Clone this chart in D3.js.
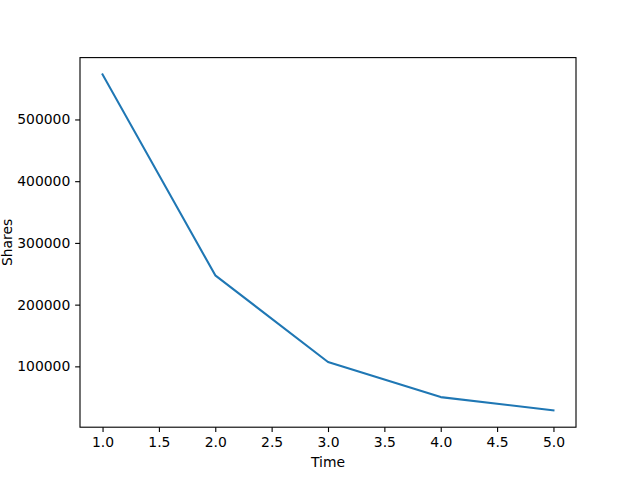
<!DOCTYPE html>
<html>
<head>
<meta charset="utf-8">
<script src="https://cdn.jsdelivr.net/npm/d3@7"></script>
<style>
  body { margin: 0; background: #fff; }
  svg { display: block; }
  text { font-family: "DejaVu Sans", sans-serif; }
</style>
</head>
<body>
<svg id="chart" width="640" height="480"></svg>
<script>
const times = [1, 2, 3, 4, 5];
const shares = [573000, 247500, 107000, 50200, 28650];
const xTicks = [1.0, 1.5, 2.0, 2.5, 3.0, 3.5, 4.0, 4.5, 5.0];
const yTicks = [100000, 200000, 300000, 400000, 500000];

(function () {
const svg = d3.select("#chart");
const W = 640, H = 480;
const mLeft = 80, mRight = 576, mTop = 57.6, mBottom = 427.2;

const xmin = d3.min(times), xmax = d3.max(times);
const xpad = (xmax - xmin) * 0.05;
const ymin = d3.min(shares), ymax = d3.max(shares);
const ypad = (ymax - ymin) * 0.05;

const x = d3.scaleLinear().domain([xmin - xpad, xmax + xpad]).range([mLeft, mRight]);
const y = d3.scaleLinear().domain([ymin - ypad, ymax + ypad]).range([mBottom, mTop]);

svg.append("rect").attr("x", 0).attr("y", 0).attr("width", W).attr("height", H).attr("fill", "#fff");

const line = d3.line().x((d, i) => x(times[i])).y(d => y(d));
svg.append("path")
  .datum(shares)
  .attr("d", line)
  .attr("fill", "none")
  .attr("stroke", "#1f77b4")
  .attr("stroke-width", 2.08)
  .attr("stroke-linecap", "square")
  .attr("stroke-linejoin", "round");

const tickLen = 4.86, pad = 4.86, fs = 13.9;

const xAxis = d3.axisBottom(x).tickValues(xTicks).tickFormat(d3.format(".1f"))
  .tickSize(tickLen).tickPadding(pad);
const gx = svg.append("g").attr("transform", `translate(0,${mBottom})`).call(xAxis);
gx.select(".domain").remove();
gx.selectAll(".tick line").attr("stroke", "#000").attr("stroke-width", 1.11);
gx.selectAll(".tick text").attr("font-size", fs).attr("font-family", "DejaVu Sans").attr("fill", "#000");

const yAxis = d3.axisLeft(y).tickValues(yTicks).tickFormat(d3.format("d"))
  .tickSize(tickLen).tickPadding(pad);
const gy = svg.append("g").attr("transform", `translate(${mLeft},0)`).call(yAxis);
gy.select(".domain").remove();
gy.selectAll(".tick line").attr("stroke", "#000").attr("stroke-width", 1.11);
gy.selectAll(".tick text").attr("font-size", fs).attr("font-family", "DejaVu Sans").attr("fill", "#000");

svg.append("rect")
  .attr("x", mLeft).attr("y", mTop)
  .attr("width", mRight - mLeft).attr("height", mBottom - mTop)
  .attr("fill", "none").attr("stroke", "#000").attr("stroke-width", 1.11);

svg.append("text")
  .attr("x", (mLeft + mRight) / 2).attr("y", 467)
  .attr("text-anchor", "middle").attr("font-size", fs)
  .text("Time");

svg.append("text")
  .attr("transform", `translate(12,${(mTop + mBottom) / 2}) rotate(-90)`)
  .attr("text-anchor", "middle").attr("font-size", fs)
  .text("Shares");
})();
</script>
</body>
</html>
